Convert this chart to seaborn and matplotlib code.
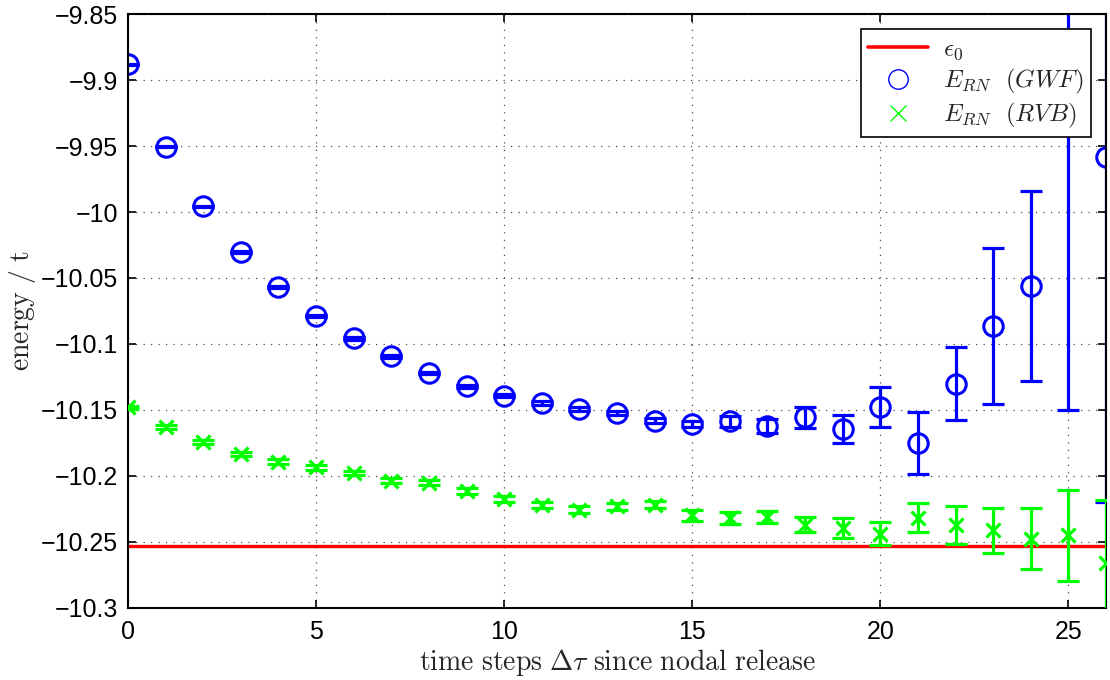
import matplotlib
matplotlib.use("Agg")
import matplotlib.pyplot as plt
import numpy as np
import pandas as pd
import seaborn as sns
from matplotlib.lines import Line2D
from matplotlib.ticker import FuncFormatter, MultipleLocator

# Imaginary-time steps after nodal release
steps = list(range(27))

# Released-node energy, Gutzwiller trial wave function
gwf_energy = [-9.8882, -9.9505, -9.9958, -10.0305, -10.0567, -10.0788, -10.0957,
              -10.1093, -10.1221, -10.1319, -10.1393, -10.1448, -10.1493, -10.1523,
              -10.1582, -10.1607, -10.1587, -10.1620, -10.1556, -10.1644, -10.1476,
              -10.1750, -10.1300, -10.0864, -10.0562, -9.8000, -9.9580]
gwf_error = [0.0004, 0.0006, 0.0006, 0.0007, 0.0008, 0.0008, 0.0009, 0.0010, 0.0010,
             0.0011, 0.0012, 0.0013, 0.0014, 0.0015, 0.0019, 0.0021, 0.0044, 0.0055,
             0.0078, 0.0104, 0.0151, 0.0237, 0.0277, 0.0591, 0.0721, 0.3500, 0.2620]

# Released-node energy, RVB trial wave function
rvb_energy = [-10.1480, -10.1627, -10.1740, -10.1833, -10.1891, -10.1934, -10.1979,
              -10.2035, -10.2052, -10.2113, -10.2173, -10.2218, -10.2254, -10.2231,
              -10.2218, -10.2299, -10.2319, -10.2311, -10.2369, -10.2395, -10.2437,
              -10.2317, -10.2370, -10.2412, -10.2475, -10.2450, -10.2656]
rvb_error = [0.0010, 0.0014, 0.0015, 0.0016, 0.0016, 0.0017, 0.0017, 0.0018, 0.0019,
             0.0020, 0.0021, 0.0023, 0.0024, 0.0024, 0.0025, 0.0044, 0.0046, 0.0047,
             0.0059, 0.0076, 0.0088, 0.0110, 0.0142, 0.0170, 0.0229, 0.0344, 0.0476]

# Exact ground-state energy
eps0 = -10.2530

legend_labels = [r"$\epsilon_0$", r"$E_{RN}\ \ (GWF)$", r"$E_{RN}\ \ (RVB)$"]
x_label = r"$\mathrm{time\ steps}\ \Delta\tau\ \mathrm{since\ nodal\ release}$"
y_label = r"$\mathrm{energy\ /\ t}$"

gwf = pd.DataFrame({"step": steps, "energy": gwf_energy, "err": gwf_error})
rvb = pd.DataFrame({"step": steps, "energy": rvb_energy, "err": rvb_error})

sns.set_style("ticks")
plt.rcParams["font.family"] = ["Liberation Sans", "DejaVu Sans"]
plt.rcParams["mathtext.fontset"] = "cm"
plt.rcParams["axes.unicode_minus"] = True

BLUE = (0, 0, 1)
GREEN = (0, 1, 0)
RED = (1, 0, 0)

fig = plt.figure(figsize=(11.1, 6.8), dpi=100)
ax = fig.add_axes([0.1153, 0.1059, 0.8811, 0.8735])

ax.axhline(eps0, color=RED, lw=2.4, zorder=1)

# GWF series: error bars plus open circles
ax.errorbar(gwf["step"], gwf["energy"], yerr=gwf["err"], fmt="none",
            ecolor=BLUE, elinewidth=2.3, capsize=8, capthick=2.3, zorder=2)
sns.lineplot(data=gwf, x="step", y="energy", ax=ax, errorbar=None,
             linestyle="", marker="o", markersize=14, markerfacecolor="none",
             markeredgecolor=BLUE, markeredgewidth=2.2, color=BLUE, zorder=2,
             legend=False)

# RVB series: error bars plus crosses
ax.errorbar(rvb["step"], rvb["energy"], yerr=rvb["err"], fmt="none",
            ecolor=GREEN, elinewidth=2.3, capsize=8, capthick=2.3, zorder=3)
sns.lineplot(data=rvb, x="step", y="energy", ax=ax, errorbar=None,
             linestyle="", marker="x", markersize=10, markeredgewidth=2.3,
             markeredgecolor=GREEN, color=GREEN, zorder=3, legend=False)

ax.set_xlim(0, 26)
ax.set_ylim(-10.3, -9.85)
ax.xaxis.set_major_locator(MultipleLocator(5))
ax.yaxis.set_major_locator(MultipleLocator(0.05))
ax.yaxis.set_major_formatter(
    FuncFormatter(lambda v, p: f"{v:g}".replace("-", "\u2212")))
ax.xaxis.set_major_formatter(FuncFormatter(lambda v, p: f"{v:g}"))

ax.grid(True, linestyle=(0, (1, 5)), color="black", linewidth=0.9, alpha=0.7)
ax.tick_params(direction="in", top=True, right=True, length=6, width=1.2,
               labelsize=18, colors="black")
ax.tick_params(axis="x", pad=9)
ax.tick_params(axis="y", pad=7)
for s in ax.spines.values():
    s.set_linewidth(1.5)
    s.set_color("black")

ax.set_xlabel(x_label, fontsize=20, labelpad=2)
ax.set_ylabel(y_label, fontsize=20, labelpad=2)

handles = [
    Line2D([], [], color=RED, lw=2.6),
    Line2D([], [], linestyle="", marker="o", markersize=14,
           markerfacecolor="none", markeredgecolor=BLUE, markeredgewidth=1.0),
    Line2D([], [], linestyle="", marker="x", markersize=11,
           color=GREEN, markeredgewidth=1.0),
]
leg = ax.legend(handles, legend_labels, loc="upper right", fontsize=18,
                frameon=True, fancybox=False, framealpha=1, edgecolor="black",
                borderaxespad=0.6, handlelength=2.4, labelspacing=0.2,
                borderpad=0.3, handletextpad=0.6)
leg.get_frame().set_linewidth(1.2)

fig.savefig("out.png", dpi=100)
